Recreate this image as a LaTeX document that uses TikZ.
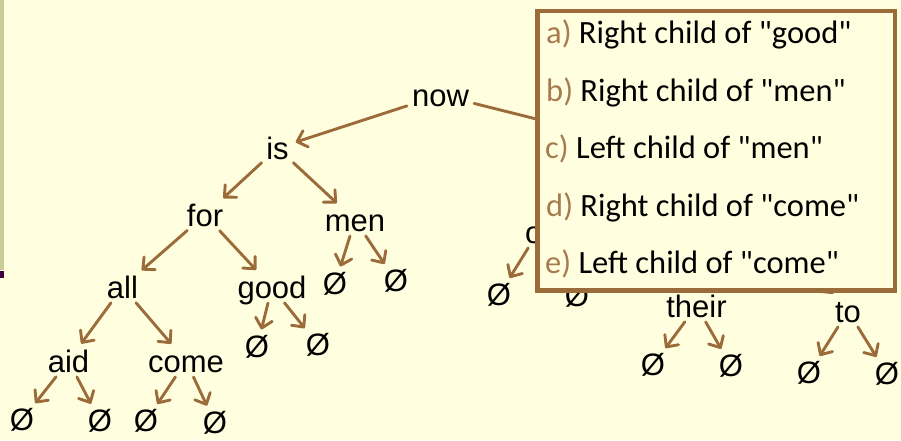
\documentclass[tikz,border=0pt]{standalone}
\usepackage{fontspec}
\setmainfont{Liberation Sans}
\newfontfamily\quizfont{Carlito}
\usetikzlibrary{arrows.meta}
\definecolor{paper}{RGB}{255,255,224}
\definecolor{bark}{RGB}{156,107,58}
\definecolor{tag}{RGB}{166,123,79}
\definecolor{rail}{RGB}{204,204,153}
\definecolor{plum}{RGB}{64,0,64}

\begin{document}
\begin{tikzpicture}[x=1pt,y=-1pt,
  word/.style={font=\fontsize{31}{31}\selectfont, inner sep=3pt, text height=22pt, text depth=0pt, anchor=base},
  nil/.style={font=\fontsize{31}{31}\selectfont, inner sep=2pt},
  edge/.style={draw=bark, line width=2.9pt, line cap=round,
    -{Straight Barb[length=9pt,width=17pt,line cap=round,line join=round]},
    shorten <=2pt, shorten >=4pt},
  choice/.style={font=\quizfont\fontsize{32.5}{32.5}\selectfont, anchor=base west, inner sep=0pt}]

% page and side rail
\fill[paper] (0,0) rectangle (901,440);
\useasboundingbox (0,0) rectangle (901,440);
\fill[rail] (0,0) rectangle (4,270);
\fill[plum] (0,271) rectangle (3.5,278);

% words of the tree (the two inner nodes under the box are plain points)
\node[word] (now) at (440.5,106) {now};
\node[word] (is) at (277.5,159) {is};
\coordinate (the) at (660,150);
\node[word] (for) at (205,226) {for};
\node[word] (men) at (355,231) {men};
\node[word, anchor=base west] (of) at (522,243) {of};
\coordinate (time) at (772,222);
\node[word] (all) at (122.5,298) {all};
\node[word] (good) at (272,298) {good};
\node[word] (their) at (696.5,317) {their};
\node[word] (to) at (848,322) {to};
\node[word] (aid) at (68.5,372) {aid};
\node[word] (come) at (186,372) {come};

% empty subtrees
\node[nil] (aidL) at (22,420) {Ø};
\node[nil] (aidR) at (100,421) {Ø};
\node[nil] (comeL) at (146,421) {Ø};
\node[nil] (comeR) at (215,423) {Ø};
\node[nil] (goodL) at (257,347) {Ø};
\node[nil] (goodR) at (318,345) {Ø};
\node[nil] (menL) at (335,284) {Ø};
\node[nil] (menR) at (396,281) {Ø};
\node[nil] (ofL) at (499,295) {Ø};
\node[nil] (ofR) at (577,296) {Ø};
\node[nil] (theirL) at (653,365) {Ø};
\node[nil] (theirR) at (731,366) {Ø};
\node[nil] (toL) at (809,373) {Ø};
\node[nil] (toR) at (887,374) {Ø};

% links
\draw[edge] (now) -- (is);
\draw[edge] (now) -- (the);
\draw[edge] (is) -- (for);
\draw[edge] (is) -- (men);
\draw[edge] (the) -- (of);
\draw[edge] (the) -- (time);
\draw[edge] (for) -- (all);
\draw[edge] (for) -- (good);
\draw[edge] (men) -- (menL);
\draw[edge] (men) -- (menR);
\draw[edge] (of) -- (ofL);
\draw[edge] (of) -- (ofR);
\draw[edge] (time) -- (their);
\draw[edge] (time) -- (to);
\draw[edge] (all) -- (aid);
\draw[edge] (all) -- (come);
\draw[edge] (good) -- (goodL);
\draw[edge] (good) -- (goodR);
\draw[edge] (aid) -- (aidL);
\draw[edge] (aid) -- (aidR);
\draw[edge] (come) -- (comeL);
\draw[edge] (come) -- (comeR);
\draw[edge] (their) -- (theirL);
\draw[edge] (their) -- (theirR);
\draw[edge] (to) -- (toL);
\draw[edge] (to) -- (toR);

% question box
\node[draw=bark, line width=4.5pt, fill=paper, minimum width=357.5pt, minimum height=279.5pt,
  anchor=north west, inner sep=0pt] (quiz) at (535,8.5) {};
\node[choice] (qa) at (546,43) {\textcolor{tag}{a)} Right child of "good"};
\node[choice] (qb) at (546,101) {\textcolor{tag}{b)} Right child of "men"};
\node[choice] (qc) at (545,158) {\textcolor{tag}{c)} Left child of "men"};
\node[choice] (qd) at (546,216) {\textcolor{tag}{d)} Right child of "come"};
\node[choice] (qe) at (545,273) {\textcolor{tag}{e)} Left child of "come"};
\end{tikzpicture}
\end{document}
